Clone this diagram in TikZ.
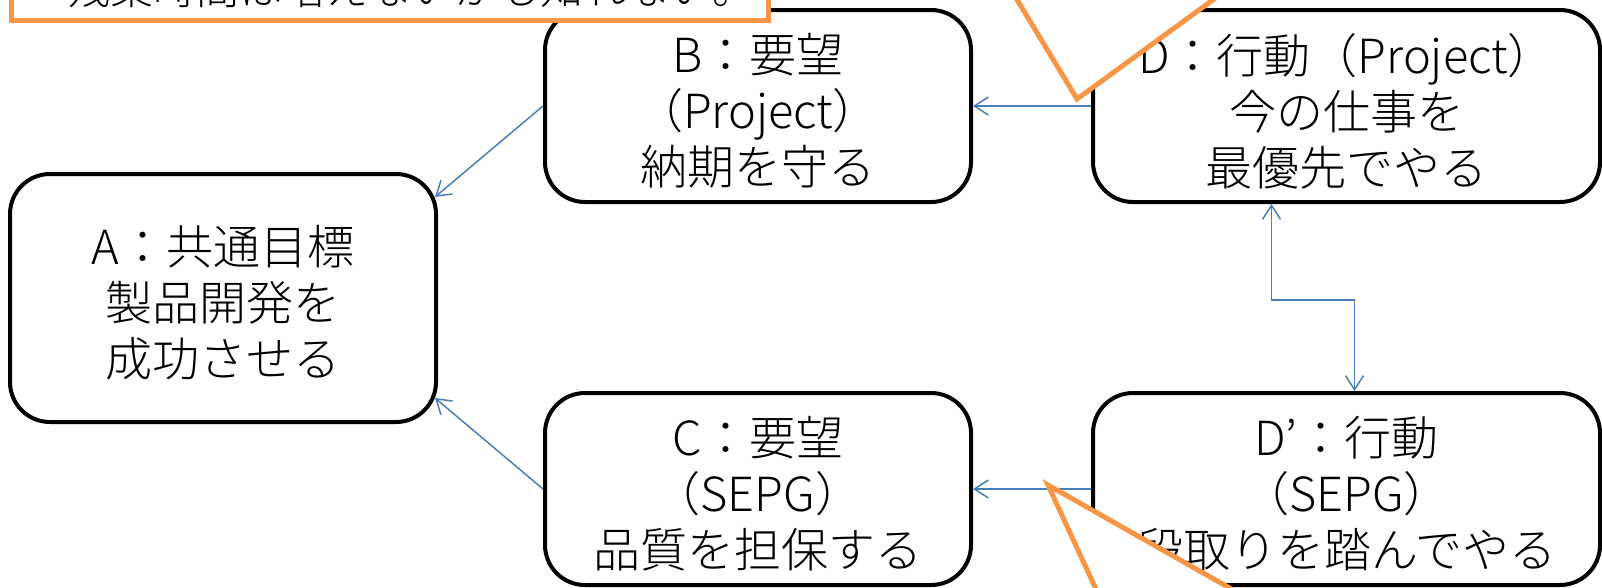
\documentclass[tikz,border=0pt]{standalone}
\usepackage{fontspec}
\setmainfont{Noto Sans CJK JP}[UprightFont=* Light]
\usetikzlibrary{arrows.meta,calc}
\definecolor{callorange}{HTML}{F79646}
\definecolor{connblue}{HTML}{4A7EBB}
\tikzset{
  box/.style={draw=black, line width=4pt, rounded corners=40pt, fill=white, inner sep=0pt},
  boxtext/.style={inner sep=0pt, align=center, font=\fontsize{47}{56}\selectfont},
  conn/.style={draw=connblue, line width=1.5pt},
  tipb/.tip={Straight Barb[length=14pt,width=18pt,line width=1.5pt]},
  callline/.style={draw=callorange, line width=5pt, line join=miter},
}
\begin{document}
\begin{tikzpicture}[x=1pt,y=-1pt]
\useasboundingbox (0,0) rectangle (1602,587);
\clip (0,0) rectangle (1602,587);
% boxes
\node[box, minimum width=426pt, minimum height=248pt] (A) at (223,298) {};
\node[box, minimum width=426pt, minimum height=192pt] (B) at (758,106) {};
\node[box, minimum width=507pt, minimum height=192pt] (D) at (1346.5,106) {};
\node[box, minimum width=426pt, minimum height=192pt] (C) at (758,489) {};
\node[box, minimum width=507pt, minimum height=192pt] (Dp) at (1346.5,489) {};
% texts
\node[boxtext] (At) at ($(A.center)+(0,5)$) {A：共通目標\\製品開発を\\成功させる};
\node[boxtext] (Bt) at ($(B.center)+(0,5)$) {B：要望\\（Project）\\納期を守る};
\node[boxtext] (Dt) at ($(D.center)+(0,5)$) {D：行動（Project）\\今の仕事を\\最優先でやる};
\node[boxtext] (Ct) at ($(C.center)+(0,5)$) {C：要望\\（SEPG）\\品質を担保する};
\node[boxtext] (Dpt) at ($(Dp.center)+(0,5)$) {D’：行動\\（SEPG）\\段取りを踏んでやる};
% connectors
\draw[conn, -{tipb}] (B.west) -- ($(A.north east)+(-3,25)$);
\draw[conn, -{tipb}] (D.west) -- (B.east);
\draw[conn, -{tipb}] (C.west) -- ($(A.south east)+(-3,-26)$);
\draw[conn, -{tipb}] (Dp.west) -- (C.east);
\draw[conn, {tipb}-{tipb}] ($(D.south)+(-75,0)$) -- ++(0,96) -| ($(Dp.north)+(8,0)$);
% callouts
\filldraw[fill=white, draw=callorange, line width=5pt] (11,-80) rectangle (768,20);
\node[anchor=base west, inner sep=0pt, font=\fontsize{43}{50}\selectfont] (note) at (15,4)
  {→ 残業時間は増えないかも知れない。};
\fill[white] (981,-60) -- (1077,99) -- (1295,-60) -- cycle;
\draw[callline] (981,-60) -- (1077,99) -- (1295,-60);
\fill[white] (1124,650) -- (1048,485) -- (1339,650) -- cycle;
\draw[callline] (1124,650) -- (1048,485) -- (1339,650);
\end{tikzpicture}
\end{document}
